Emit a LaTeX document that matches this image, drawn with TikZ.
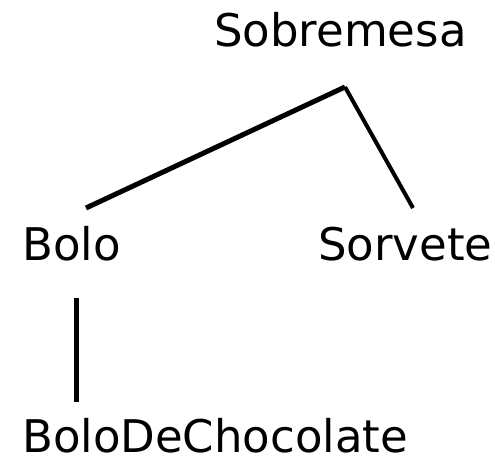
\documentclass[tikz,border=0pt]{standalone}
\usepackage{fontspec}
\setmainfont{DejaVu Sans}
\begin{document}
\begin{tikzpicture}[x=1pt,y=1pt,
  label/.style={anchor=base west,inner sep=0pt,text depth=0pt,font=\fontsize{45}{50}\selectfont},
  edge/.style={line width=4.5pt}]
\useasboundingbox (0,0) rectangle (495,459);
% tree labels
\node[label] (sob) at (214,412) {Sobremesa};
\node[label] (bolo) at (22,199) {Bolo};
\node[label] (sorv) at (318,199) {Sorvete};
\node[label] (boloch) at (22,7) {BoloDeChocolate};
% connector ends
\coordinate (apex) at (345,372);
\coordinate (boloTop) at (86,251);
\coordinate (sorvTop) at (413,251);
\coordinate (boloBot) at (76,161);
\coordinate (chocTop) at (76,57);
% edges
\draw[edge,line width=5pt] (apex) -- (boloTop);
\draw[edge,line width=4pt] (apex) -- (sorvTop);
\draw[edge,line width=5pt] (boloBot) -- (chocTop);
\end{tikzpicture}
\end{document}
